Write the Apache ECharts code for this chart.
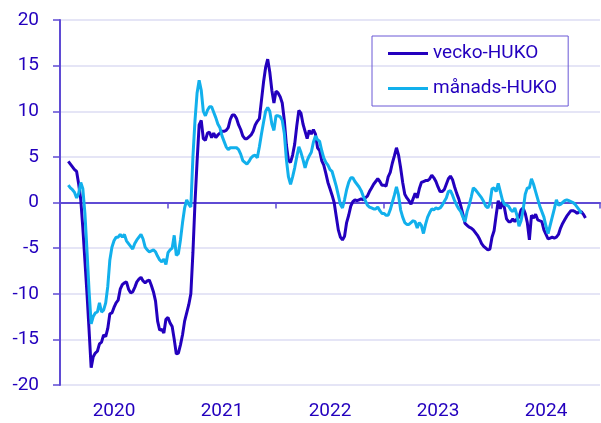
<!DOCTYPE html>
<html>
<head>
<meta charset="utf-8">
<script src="https://cdn.jsdelivr.net/npm/echarts@6/dist/echarts.min.js"></script>
<style>
  html, body { margin: 0; padding: 0; background: #fff; }
  #chart { width: 601px; height: 423px; }
</style>
</head>
<body>
<div id="chart"></div>
<script>
// veckor sedan 2020-01-01, 52 per år
const firstWeek = 4;
const years = [2020, 2021, 2022, 2023, 2024];
const yTicks = [-20, -15, -10, -5, 0, 5, 10, 15, 20];

// vecko-HUKO, en punkt per vecka från vecka 4
const vecko = [
  4.5, 4.2, 3.9, 3.6, 3.4, 2.0, 0.3, -2.8, -6.4, -10, -14.0, -18.1, -16.9, -16.5, -16.3, -15.5, -15.3, -14.5, -14.7, -13.8,
  -12.2, -12.1, -11.5, -11.0, -10.7, -9.5, -9.0, -8.8, -8.7, -9.5, -9.9, -9.8, -9.3, -8.7, -8.4, -8.2, -8.6, -8.8, -8.6, -8.5,
  -9.1, -9.8, -10.8, -13.0, -14.0, -13.9, -14.3, -12.8, -12.6, -13.2, -13.6, -15.0, -16.6, -16.5, -15.6, -14.5, -13.0, -12.1, -11.2, -10.0,
  -5.5, 0, 4.5, 8.5, 9.0, 7.0, 6.8, 7.6, 7.7, 7.1, 7.6, 7.1, 7.4, 7.6, 7.8, 7.8, 7.9, 8.2, 9.1, 9.6,
  9.6, 9.2, 8.5, 8.0, 7.3, 7.0, 7.0, 7.2, 7.4, 7.8, 8.5, 8.9, 9.2, 11.2, 13.2, 14.8, 15.7, 14.3, 12.3, 10.9,
  12.2, 12.0, 11.6, 10.9, 9.0, 6.3, 4.6, 4.4, 5.2, 6.4, 8.4, 10.1, 9.8, 8.6, 7.8, 7.0, 7.9, 7.5, 8.0, 7.5,
  6.0, 5.7, 4.6, 4.1, 3.2, 2.2, 1.5, 0.8, 0.0, -1.5, -3.0, -3.8, -4.1, -3.7, -2.2, -1.4, -0.4, 0.1, 0.3, 0.2,
  0.3, 0.4, 0.3, 0.5, 0.7, 1.2, 1.6, 2.0, 2.3, 2.6, 2.3, 1.9, 1.9, 1.8, 2.8, 3.3, 4.3, 5.1, 6.0, 5.2,
  3.8, 2.2, 0.9, 0.5, 0.2, -0.2, 0.4, 1.0, 0.5, 1.5, 2.2, 2.3, 2.4, 2.4, 2.6, 3.0, 2.7, 2.3, 1.7, 1.2,
  1.2, 1.4, 2.0, 2.6, 2.9, 2.5, 1.7, 1.0, 0.4, -0.4, -1.3, -2.3, -2.5, -2.7, -2.8, -3.0, -3.3, -3.6, -4.0, -4.5,
  -4.8, -5.0, -5.2, -5.1, -3.8, -3.1, -1.4, 0.2, -0.7, 0.1, -0.6, -1.8, -2.1, -2.1, -1.8, -2.1, -1.8, -1.6, -0.8, -0.6,
  -1.2, -2.2, -4.1, -1.4, -1.7, -1.3, -1.9, -2.0, -2.1, -3.0, -3.5, -4.0, -3.9, -3.8, -3.9, -3.8, -3.5, -2.8, -2.3, -1.9,
  -1.5, -1.2, -0.9, -0.9, -1.0, -1.2, -1.0, -1.0, -1.3, -1.7
];

// månads-HUKO, en punkt per vecka från vecka 4
const manads = [
  1.9, 1.6, 1.4, 1.1, 0.5, 1.0, 2.2, 1.5, -1.2, -5.3, -9.7, -13.3, -12.5, -12.1, -12.0, -11.0, -12.0, -11.8, -11.0, -9.2,
  -6.3, -4.9, -4.2, -3.8, -3.8, -3.5, -3.8, -3.5, -4.2, -4.5, -4.8, -5.1, -4.5, -4.1, -3.8, -3.5, -4.0, -4.9, -5.2, -5.4,
  -5.3, -5.2, -5.4, -5.9, -6.3, -6.5, -6.2, -6.8, -5.5, -5.2, -5.0, -3.6, -5.8, -5.6, -4.1, -2.2, -0.6, 0.3, -0.2, -0.5,
  5.0, 9.0, 12.0, 13.4, 12.3, 10.0, 9.5, 10.1, 10.5, 10.5, 9.9, 9.3, 8.6, 8.2, 7.3, 6.7, 6.1, 5.8, 6.0, 6.0,
  6.0, 6.0, 5.8, 5.3, 4.6, 4.4, 4.2, 4.5, 4.9, 5.1, 5.2, 4.9, 6.1, 7.5, 8.8, 10.0, 10.4, 10.0, 8.6, 7.9,
  9.5, 9.5, 9.4, 9.0, 7.6, 4.7, 2.8, 2.0, 2.8, 3.8, 5.0, 6.1, 5.5, 4.7, 3.8, 4.6, 5.1, 5.5, 6.6, 7.3,
  6.9, 6.7, 5.7, 4.9, 4.4, 4.1, 3.6, 3.4, 2.6, 1.8, 0.8, -0.2, -0.6, 0.3, 1.4, 2.2, 2.7, 2.7, 2.3, 2.0,
  1.7, 1.3, 0.7, 0.2, -0.3, -0.5, -0.6, -0.7, -0.7, -0.5, -0.9, -1.2, -1.2, -1.4, -1.4, -0.8, 0.0, 0.8, 1.7, 0.8,
  -0.8, -1.6, -2.2, -2.4, -2.4, -2.2, -2.0, -2.1, -2.8, -2.2, -2.5, -3.4, -2.4, -1.6, -1.1, -0.7, -0.8, -0.6, -0.7, -0.6,
  -0.3, 0.1, 0.5, 1.2, 1.3, 0.8, 0.2, -0.3, -0.7, -1.0, -1.6, -2.1, -1.0, -0.3, 0.6, 1.6, 1.4, 1.1, 0.8, 0.5,
  0.1, -0.4, -0.6, -0.1, 1.5, 1.6, 1.2, 2.1, 1.2, 0.3, -0.2, -0.3, -0.4, -0.8, -1.0, -0.6, -1.4, -2.6, -2.0, -0.8,
  0.9, 1.6, 1.6, 2.6, 2.0, 1.2, 0.4, -0.4, -1.0, -1.6, -2.6, -3.4, -2.5, -1.6, -0.7, 0.3, -0.3, -0.2, 0.0, 0.2,
  0.3, 0.2, 0.1, 0.0, -0.2, -0.5, -0.8, -1.2
];

const navy = '#2300BE';
const sky = '#12B0EC';
const axisPurple = '#5F4BD4';
const gridLav = '#DCDCF3';

// kategorier: en per vecka, 2020v1 ... 2025v1
const weeks = [];
for (let w = 0; w <= years.length * 52; w++) {
  weeks.push((2020 + Math.floor(w / 52)) + 'v' + (w % 52 + 1));
}
const pad = new Array(firstWeek).fill(null);

const chart = echarts.init(document.getElementById('chart'), null, { renderer: 'canvas' });

chart.setOption({
  animation: false,
  textStyle: { fontFamily: 'Roboto' },
  grid: { left: 60, right: 1, top: 20, bottom: 38 },
  legend: {
    orient: 'vertical',
    left: 372,
    top: 36,
    padding: [8, 11, 8, 16],
    itemGap: 16,
    itemWidth: 40,
    itemHeight: 3,
    icon: 'rect',
    borderColor: '#6A58D6',
    borderWidth: 1,
    textStyle: { color: navy, fontSize: 19, fontFamily: 'Roboto' },
    data: ['vecko-HUKO', 'månads-HUKO']
  },
  xAxis: [
    {
      type: 'category',
      data: weeks,
      boundaryGap: false,
      position: 'bottom',
      axisLine: { show: false, onZero: false },
      axisTick: { show: false },
      splitLine: { show: false },
      axisLabel: {
        color: navy,
        fontSize: 19,
        margin: 17,
        interval: (i) => i % 52 === 26,
        formatter: (v) => v.split('v')[0]
      }
    },
    {
      type: 'category',
      data: weeks,
      boundaryGap: false,
      position: 'bottom',
      axisLine: { show: true, onZero: true, lineStyle: { color: axisPurple, width: 2 } },
      axisTick: { show: true, length: 6, interval: (i) => i % 52 === 0, lineStyle: { color: axisPurple, width: 1.5 } },
      axisLabel: { show: false },
      splitLine: { show: false }
    }
  ],
  yAxis: {
    type: 'value',
    min: yTicks[0],
    max: yTicks[yTicks.length - 1],
    interval: 5,
    axisLine: { show: true, lineStyle: { color: axisPurple, width: 2 } },
    axisTick: { show: true, length: 7, lineStyle: { color: axisPurple, width: 1.5 } },
    axisLabel: { color: navy, fontSize: 19, margin: 21 },
    splitLine: { lineStyle: { color: gridLav, width: 1.5 } }
  },
  series: [
    {
      name: 'vecko-HUKO',
      type: 'line',
      xAxisIndex: 0,
      data: pad.concat(vecko),
      showSymbol: false,
      color: navy,
      lineStyle: { width: 3, color: navy }
    },
    {
      name: 'månads-HUKO',
      type: 'line',
      xAxisIndex: 0,
      data: pad.concat(manads),
      showSymbol: false,
      color: sky,
      lineStyle: { width: 3, color: sky }
    }
  ]
});
</script>
</body>
</html>
